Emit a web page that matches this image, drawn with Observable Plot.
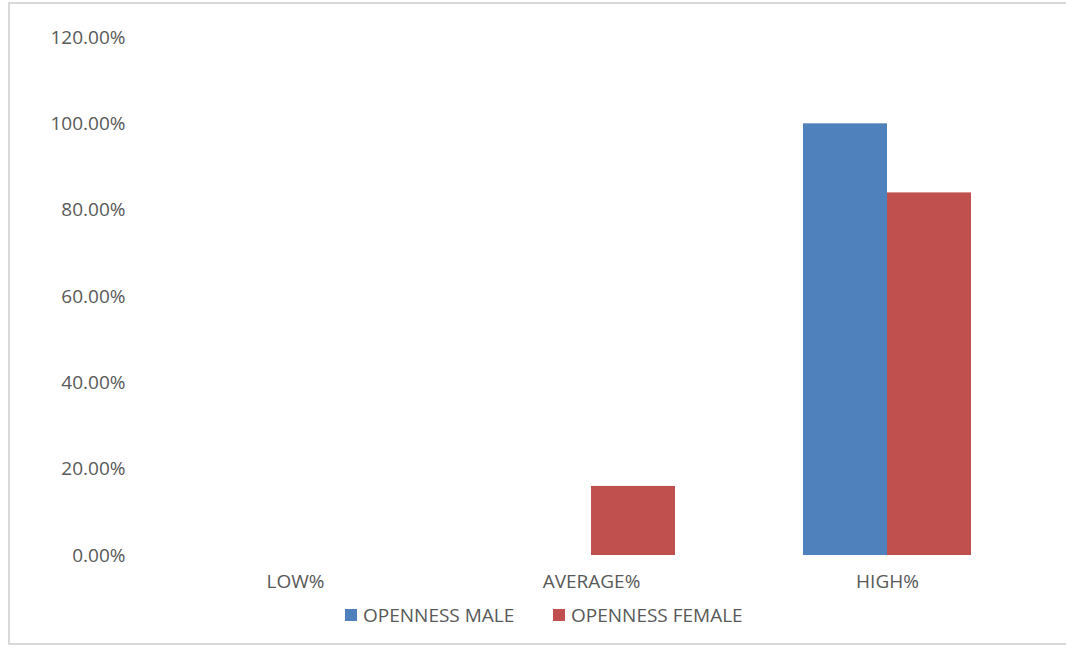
<!DOCTYPE html>
<html>
<head>
<meta charset="utf-8">
<script src="https://cdn.jsdelivr.net/npm/d3@7"></script>
<script src="https://cdn.jsdelivr.net/npm/@observablehq/plot@0.6"></script>
<style>
  html, body { margin: 0; padding: 0; background: #fff; }
  body { width: 1066px; height: 648px; position: relative; overflow: hidden; font-family: "Open Sans", sans-serif; }
  #frame { position: absolute; left: 8px; top: 2px; width: 1070px; height: 643px; border: 2px solid #d9d9d9; box-sizing: border-box; }
  #chart { position: absolute; left: 0; top: 0; }
  #legend { position: absolute; top: 602px; left: 0; width: 1066px; height: 26px; font-size: 19px; color: #595959; }
  .item { position: absolute; top: 0; display: flex; align-items: center; height: 26px; white-space: nowrap; }
  .sw { width: 12px; height: 12px; margin-right: 6px; }
</style>
</head>
<body>
<div id="frame"></div>
<div id="chart"></div>
<div id="legend"></div>
<script>
const categories = ["LOW%", "AVERAGE%", "HIGH%"];
const seriesNames = ["OPENNESS MALE", "OPENNESS FEMALE"];
const maleValues = [0, 0, 1.00];
const femaleValues = [0, 0.16, 0.84];
const yTicks = [0, 0.2, 0.4, 0.6, 0.8, 1.0, 1.2];
const colors = ["#4f81bd", "#c0504d"];

const data = [];
categories.forEach((c, i) => {
  data.push({category: c, series: seriesNames[0], value: maleValues[i]});
  data.push({category: c, series: seriesNames[1], value: femaleValues[i]});
});

const chart = Plot.plot({
  width: 1066,
  height: 600,
  marginLeft: 147,
  marginRight: 31,
  marginTop: 37,
  marginBottom: 45,
  style: {fontFamily: "Open Sans, sans-serif", fontSize: "19px", color: "#595959", background: "transparent"},
  fx: {domain: categories, paddingInner: 0.432, paddingOuter: 0.216, label: null, axis: null},
  x: {domain: seriesNames, padding: 0, axis: null},
  y: {domain: [0, 1.2], label: null, axis: null},
  color: {domain: seriesNames, range: colors},
  marks: [
    Plot.axisY({ticks: yTicks, tickFormat: d3.format(".2%"), tickSize: 0, tickPadding: 86, label: null, fontSize: 19, fill: "#595959", facetAnchor: "left", anchor: "left"}),
    Plot.axisFx({anchor: "bottom", tickSize: 0, tickPadding: 19, label: null, fontSize: 19, fill: "#595959"}),
    Plot.barY(data, {fx: "category", x: "series", y: "value", fill: "series", inset: 0})
  ]
});
document.getElementById("chart").appendChild(chart);

const legend = document.getElementById("legend");
const lx = [345, 553];
seriesNames.forEach((s, i) => {
  const item = document.createElement("div");
  item.className = "item";
  item.style.left = lx[i] + "px";
  const sw = document.createElement("span");
  sw.className = "sw";
  sw.style.background = colors[i];
  const t = document.createElement("span");
  t.textContent = s;
  item.appendChild(sw);
  item.appendChild(t);
  legend.appendChild(item);
});
</script>
</body>
</html>
